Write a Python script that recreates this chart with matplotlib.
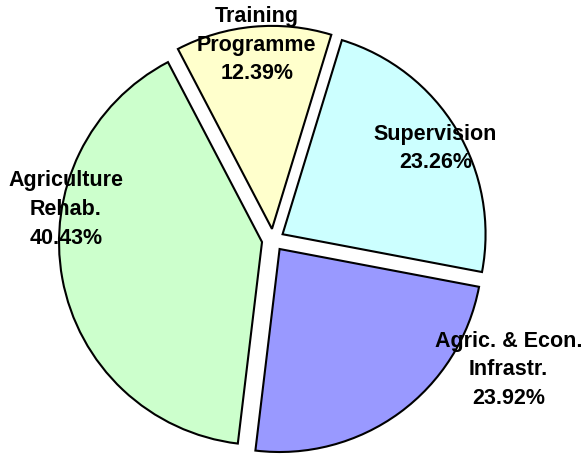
import numpy as np
import matplotlib
matplotlib.use('Agg')
import matplotlib.pyplot as plt

# slice data, clockwise from the top right
labels = ['Supervision', 'Agric. & Econ.\nInfrastr.', 'Agriculture\nRehab.', 'Training\nProgramme']
shares = [23.26, 23.92, 40.43, 12.39]
colors = ['#CCFFFF', '#9999FF', '#CCFFCC', '#FFFFCC']

# label centres in data units (pie radius = 1)
label_pos = [(0.80, 0.45), (1.16, -0.64), (-1.02, 0.15), (-0.08, 0.96)]

plt.rcParams['font.family'] = ['Liberation Sans', 'DejaVu Sans']

W, H = 585, 455
cx, cy, R = 273, 240, 203   # pixel centre and radius of the pie

fig = plt.figure(figsize=(W / 100, H / 100), dpi=100)
ax = fig.add_axes([0, 0, 1, 1])

ax.pie(shares, colors=colors, explode=[0.055] * len(shares),
       startangle=73, counterclock=False, radius=1,
       wedgeprops=dict(edgecolor='black', linewidth=1.5))

for lab, val, (x, y) in zip(labels, shares, label_pos):
    ax.text(x, y, '{}\n{:.2f}%'.format(lab, val), ha='center', va='center',
            fontsize=15.5, fontweight='bold', linespacing=1.48)

ax.set_xlim(-cx / R, (W - cx) / R)
ax.set_ylim(-(H - cy) / R, cy / R)
ax.set_aspect('equal')
ax.axis('off')

fig.savefig('out.png', dpi=100)
